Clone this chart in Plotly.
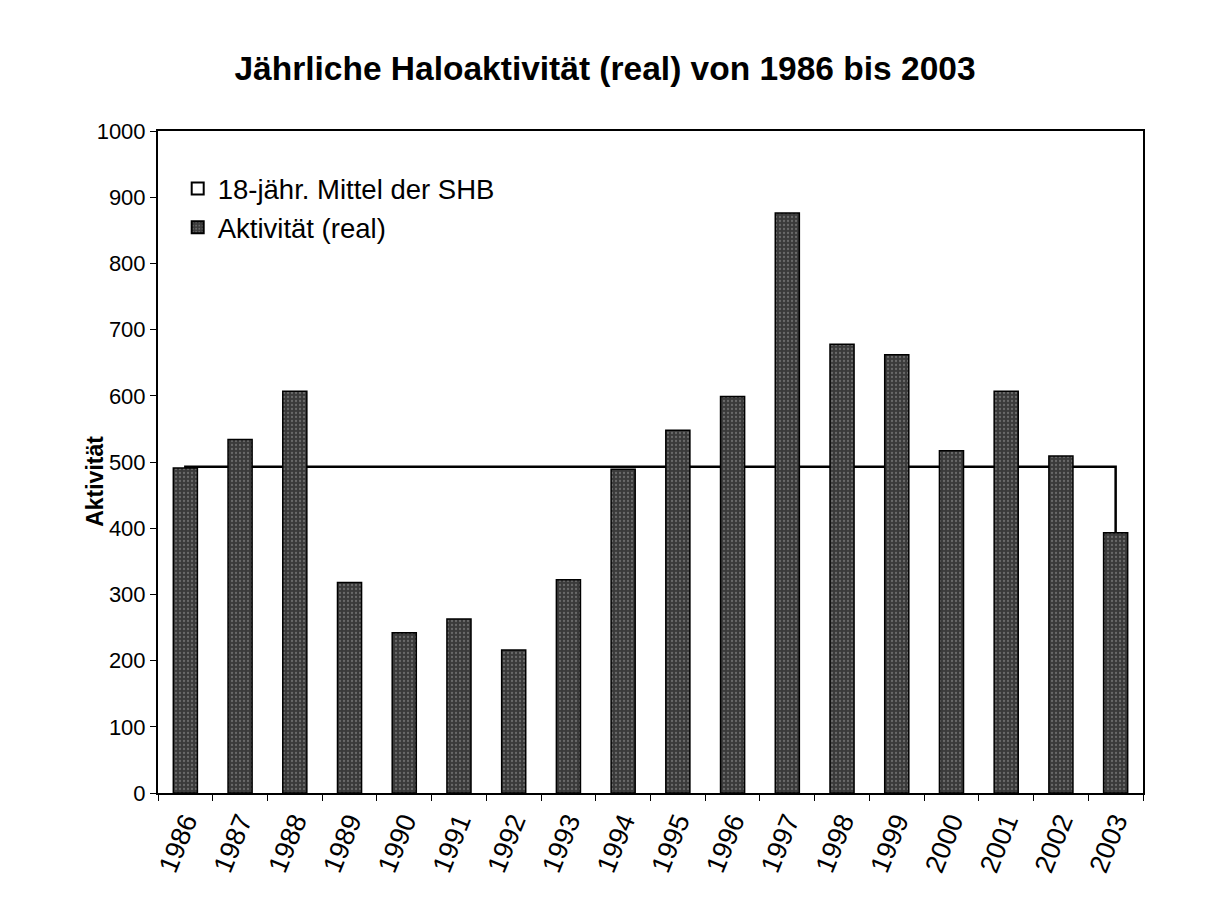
import plotly.graph_objects as go

# Daten
jahre = [str(j) for j in range(1986, 2004)]
aktivitaet = [491, 534, 607, 318, 242, 263, 216, 322, 489,
              548, 599, 876, 678, 662, 517, 607, 509, 393]
mittel_shb = [493] * len(jahre)

fig = go.Figure()

# Mittelwert als Flächendiagramm (hinten)
fig.add_trace(go.Scatter(
    x=[jahre[0]] + jahre + [jahre[-1]],
    y=[0] + mittel_shb + [0],
    mode="lines",
    fill="toself",
    fillcolor="white",
    line=dict(color="black", width=2.5),
    name="18-jähr. Mittel der SHB",
    legendgroup="mittel",
    showlegend=False,
    xaxis="x", yaxis="y",
))

# nur Legendeneintrag (weißes Kästchen wie im Original)
fig.add_trace(go.Bar(
    x=[None], y=[None],
    name="18-jähr. Mittel der SHB",
    legendgroup="mittel",
    marker=dict(color="white", line=dict(color="black", width=1.5)),
    xaxis="x", yaxis="y",
))

# Aktivität als Balken (vorne, auf überlagerter Achse)
fig.add_trace(go.Bar(
    x=jahre,
    y=aktivitaet,
    name="Aktivität (real)",
    marker=dict(
        color="#4d4d4d",
        line=dict(color="black", width=1.5),
        pattern=dict(shape=".", fgcolor="#9a9a9a", bgcolor="#3a3a3a",
                     size=4, solidity=0.25),
    ),
    xaxis="x", yaxis="y2",
))

schrift = "Arial, Liberation Sans, sans-serif"
y_range = [0, 1000]

# Seite hat 8px Body-Rand -> Figur etwas kleiner
breite, hoehe = 1204, 886
fig.update_layout(
    width=breite,
    height=hoehe,
    margin=dict(l=150, r=breite - 150 - 985, t=123, b=hoehe - 123 - 662),
    paper_bgcolor="white",
    plot_bgcolor="white",
    font=dict(family=schrift, color="black", size=20),
    title=dict(
        text="<b>Jährliche Haloaktivität (real) von 1986 bis 2003</b>",
        x=(605 - 8) / breite, xref="container", xanchor="center",
        y=1 - 60 / hoehe, yref="container", yanchor="middle",
        font=dict(size=33.5, family=schrift),
    ),
    bargap=0.56,
    barmode="overlay",
    showlegend=True,
    legend=dict(
        x=0.02, y=0.95, xanchor="left", yanchor="top",
        bgcolor="rgba(0,0,0,0)",
        font=dict(size=27.5, family=schrift),
        traceorder="normal",
        itemsizing="constant",
        tracegroupgap=0,
    ),
    xaxis=dict(
        type="category",
        range=[-0.5, len(jahre) - 0.5],
        showline=True, linecolor="black", linewidth=2, mirror=True,
        ticks="outside", tickson="boundaries", ticklen=6,
        tickcolor="black",
        tickangle=-68,
        tickfont=dict(size=27, family=schrift),
        showgrid=False,
    ),
    yaxis=dict(
        range=y_range,
        dtick=100,
        showline=True, linecolor="black", linewidth=2, mirror=True,
        ticks="outside", ticklen=6, tickcolor="black",
        tickfont=dict(size=22, family=schrift),
        showgrid=False,
        zeroline=False,
    ),
    yaxis2=dict(
        range=y_range,
        overlaying="y",
        visible=False,
    ),
    annotations=[dict(
        text="<b>Aktivität</b>",
        x=(95 - 158) / 985, y=0.47, xref="paper", yref="paper",
        xanchor="center", yanchor="middle",
        textangle=-90, showarrow=False,
        font=dict(size=23, family=schrift),
    )],
)

fig.write_html("out.html")
